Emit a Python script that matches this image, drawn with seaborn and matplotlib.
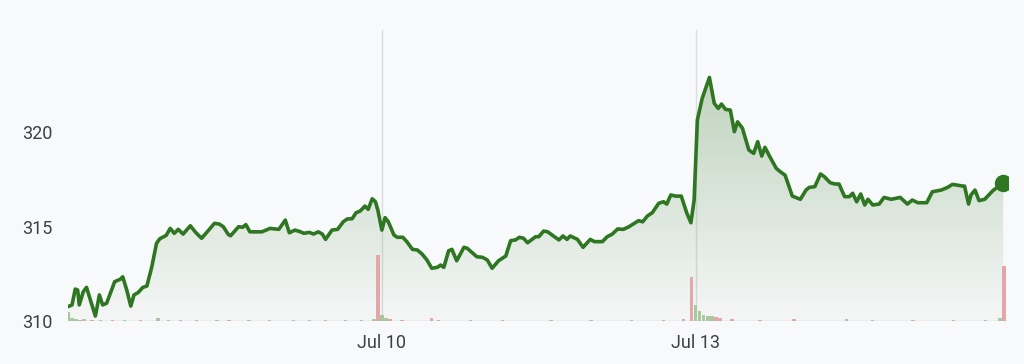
import numpy as np
import pandas as pd
import matplotlib
matplotlib.use("Agg")
import matplotlib.pyplot as plt
from matplotlib.colors import LinearSegmentedColormap
import seaborn as sns

# ---------------- data ----------------
# minutes of trading time since the first session's open (390 min per session)
minutes = [0, 5, 9, 12, 14, 19, 23, 29, 34, 39, 43, 48, 58, 65, 68, 73, 78, 82, 87, 93,
           98, 104, 110, 114, 122, 127, 132, 137, 143, 152, 159, 166, 173, 182, 188, 193,
           199, 202, 212, 217, 221, 226, 241, 251, 262, 270, 275, 282, 289, 293, 300, 305,
           311, 316, 320, 328, 335, 342, 347, 353, 358, 363, 369, 373, 378, 382, 385,
           390, 394, 398, 405, 409, 416, 421, 428, 434, 440, 446, 452, 459, 463, 467, 473,
           477, 483, 492, 496, 508, 515, 521, 527, 535, 544, 550, 556, 561, 566, 571, 581,
           585, 591, 596, 610, 615, 620, 624, 633, 640, 649, 654, 664, 670, 676, 683, 690,
           697, 709, 714, 720, 726, 734, 740, 744, 749, 755, 762, 769, 774, 778,
           782, 788, 797, 803, 808, 812, 817, 823, 828, 832, 838, 846, 852, 857, 862, 866,
           871, 880, 885, 891, 900, 910, 917, 921, 928, 935, 940, 947, 953, 958, 965, 971,
           975, 980, 985, 990, 994, 1000, 1008, 1014, 1023, 1034, 1043, 1049, 1056, 1067,
           1074, 1085, 1093, 1099, 1112, 1114, 1119, 1122, 1127, 1132, 1139, 1149, 1162]
prices = [310.76, 310.85, 311.69, 311.64, 310.85, 311.55, 311.78, 310.94, 310.26, 311.38,
          310.85, 310.94, 312.08, 312.21, 312.34, 311.64, 310.79, 311.38, 311.50, 311.78,
          311.85, 312.84, 314.11, 314.35, 314.53, 314.90, 314.64, 314.85, 314.60, 315.04,
          314.67, 314.38, 314.72, 315.17, 315.13, 314.99, 314.59, 314.51, 314.99, 314.96,
          315.10, 314.72, 314.72, 314.90, 314.85, 315.34, 314.67, 314.81, 314.72, 314.64,
          314.69, 314.60, 314.72, 314.60, 314.32, 314.81, 314.85, 315.25, 315.40, 315.41,
          315.73, 315.82, 316.08, 315.91, 316.47, 316.31, 315.87,
          314.81, 315.47, 315.25, 314.55, 314.43, 314.43, 314.20, 313.79, 313.76, 313.54,
          313.23, 312.79, 312.84, 312.96, 312.84, 313.72, 313.79, 313.19, 313.90, 313.85,
          313.40, 313.37, 313.23, 312.79, 313.19, 313.44, 314.25, 314.29, 314.43, 314.38,
          314.14, 314.46, 314.46, 314.76, 314.72, 314.29, 314.50, 314.32, 314.50, 314.32,
          313.90, 314.32, 314.20, 314.20, 314.46, 314.59, 314.87, 314.85, 314.99, 315.31,
          315.25, 315.56, 315.73, 316.23, 316.31, 316.19, 316.67, 316.61, 316.61, 315.70,
          315.20, 316.40,
          320.63, 321.78, 322.89, 321.52, 321.25, 321.48, 321.20, 321.16, 320.02, 320.54,
          320.20, 319.05, 318.87, 319.49, 318.73, 319.19, 318.78, 318.08, 317.90, 317.72,
          316.61, 316.44, 316.93, 317.07, 317.11, 317.78, 317.63, 317.32, 317.25, 317.25,
          316.58, 316.58, 316.76, 316.31, 316.72, 316.14, 316.44, 316.14, 316.19, 316.54,
          316.44, 316.54, 316.19, 316.40, 316.26, 316.26, 316.84, 316.93, 317.07, 317.23,
          317.14, 317.14, 316.19, 316.67, 316.93, 316.37, 316.44, 316.89, 317.32]

vol_minutes = [0, 5, 10, 15, 20, 30, 40, 55, 70, 90, 112, 125, 140, 160, 185, 200, 225, 250,
               280, 300, 320, 345, 365, 380, 385, 390, 395, 400, 415, 452, 460, 500, 540, 600,
               650, 700, 740, 765, 775, 780, 785, 790, 795, 800, 805, 810, 825, 860, 902, 967,
               1000, 1050, 1100, 1140, 1158, 1163]
vol_values = [90, 30, 25, 15, 20, 10, 15, 10, 8, 10, 35, 15, 8, 10, 8, 8, 10, 8,
              8, 10, 8, 10, 12, 20, 660, 60, 30, 20, 15, 30, 10, 8, 8, 8,
              10, 12, 15, 20, 440, 160, 100, 60, 55, 55, 40, 35, 25, 10, 25, 20,
              10, 10, 10, 8, 30, 550]
vol_up = [1, 1, 1, 0, 1, 0, 1, 0, 1, 0, 1, 1, 0, 0, 1, 0, 1, 0,
          1, 1, 0, 1, 1, 1, 0, 1, 1, 0, 0, 0, 1, 1, 0, 1,
          1, 1, 0, 0, 0, 1, 1, 1, 1, 1, 0, 0, 0, 0, 0, 1,
          1, 0, 0, 1, 1, 0]

day_ticks = [390, 780]
day_labels = ["Jul 10", "Jul 13"]
y_ticks = [310, 315, 320]

# ---------------- style ----------------
BG = "#f8f9fa"
GREEN = "#2e7622"
sns.set_theme(style="white")
plt.rcParams["font.family"] = ["Roboto", "DejaVu Sans"]

fig = plt.figure(figsize=(10.24, 3.64), dpi=100, facecolor=BG)
ax = fig.add_axes([68 / 1024, 43 / 364, 940 / 1024, 291 / 364])
ax.set_facecolor(BG)

df = pd.DataFrame({"minute": minutes, "price": prices})

ax.set_xlim(0, 1168)
ax.set_ylim(310, 325.4)

# day separators
for t in day_ticks:
    ax.axvline(t, color="#dadce0", lw=1.0, zorder=1)
ax.axhline(310, color="#c8cbcf", lw=1.0, zorder=1)

# gradient fill under the line
poly = ax.fill_between(df["minute"], df["price"], 310, color="none", lw=0)
cmap = LinearSegmentedColormap.from_list(
    "g", [(0.20, 0.45, 0.16, 0.02), (0.18, 0.46, 0.13, 0.33)])
grad = np.linspace(0, 1, 256).reshape(-1, 1)
im = ax.imshow(grad, cmap=cmap, aspect="auto", origin="lower",
               extent=[0, 1168, 310, 325.4], zorder=2, interpolation="bicubic")
path = poly.get_paths()[0]
im.set_clip_path(path, transform=ax.transData)

sns.lineplot(data=df, x="minute", y="price", ax=ax, color=GREEN, lw=2.6,
             zorder=4, solid_joinstyle="round", solid_capstyle="round")
ax.plot([minutes[-1]], [prices[-1]], "o", color=GREEN, ms=11.5, zorder=5)

# volume
ax2 = ax.twinx()
ax2.set_ylim(0, 2910)
ax2.patch.set_visible(False)
cols = ["#a9c8a0" if u else "#e3a7ab" for u in vol_up]
ax2.bar(vol_minutes, vol_values, width=4.2, color=cols, align="center", zorder=3,
        linewidth=0)
ax2.set_yticks([])
for s in ax2.spines.values():
    s.set_visible(False)

ax.set_xticks(day_ticks)
ax.set_xticklabels(day_labels)
ax.set_yticks(y_ticks)
ax.set_yticklabels([str(v) for v in y_ticks])
ax.set_xlabel("")
ax.set_ylabel("")
ax.tick_params(axis="both", length=0, labelsize=13, labelcolor="#3c4043")
ax.tick_params(axis="x", pad=9)
ax.tick_params(axis="y", pad=11)
for s in ax.spines.values():
    s.set_visible(False)
ax.grid(False)

fig.savefig("out.png", dpi=100, facecolor=BG)
